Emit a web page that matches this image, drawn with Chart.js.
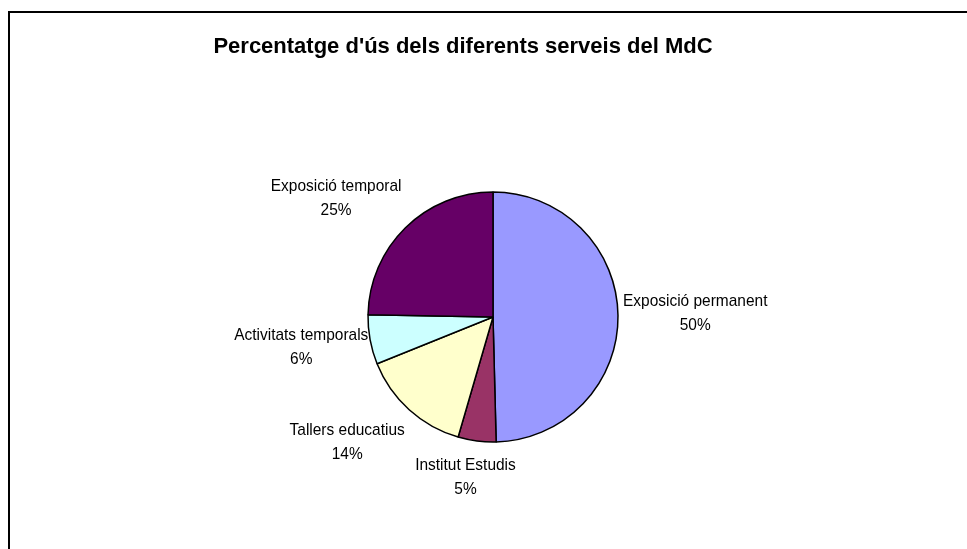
<!DOCTYPE html>
<html>
<head>
<meta charset="utf-8">
<script src="https://cdn.jsdelivr.net/npm/chart.js@4"></script>
<style>
  html, body { margin: 0; padding: 0; background: #ffffff; }
  #wrap { width: 967px; height: 549px; position: relative; }
</style>
</head>
<body>
<div id="wrap"><canvas id="c" width="967" height="549"></canvas></div>
<script>
// ---- data ----
const chartTitle = "Percentatge d'ús dels diferents serveis del MdC";
const categories = ["Exposició permanent", "Institut Estudis", "Tallers educatius", "Activitats temporals", "Exposició temporal"];
const values = [49.6, 4.9, 14.4, 6.4, 24.7];
const sliceColors = ["#9999FF", "#993366", "#FFFFCC", "#CCFFFF", "#660066"];

// ---- label placement styling (nudges from the automatic outside position) ----
const labelNudges = [[-3, -3], [-4, 9], [-18, 12], [5, 2], [-18, -12]];

const total = values.reduce((a, b) => a + b, 0);

const decorPlugin = {
  id: 'decor',
  beforeDraw(chart) {
    const ctx = chart.ctx;
    ctx.save();
    ctx.fillStyle = '#ffffff';
    ctx.fillRect(0, 0, chart.width, chart.height);
    ctx.strokeStyle = '#000000';
    ctx.lineWidth = 2;
    ctx.strokeRect(9, 12, chart.width + 20, chart.height + 20);
    ctx.fillStyle = '#000000';
    ctx.font = 'bold 22px "Liberation Sans", Arial, sans-serif';
    ctx.textAlign = 'center';
    ctx.textBaseline = 'alphabetic';
    ctx.fillText(chartTitle, 463, 53);
    ctx.restore();
  },
  afterDatasetsDraw(chart) {
    const ctx = chart.ctx;
    const meta = chart.getDatasetMeta(0);
    const fontPx = 17, sx = 0.91, lineGap = 24, cap = 12.2;
    ctx.save();
    ctx.fillStyle = '#000000';
    ctx.font = fontPx + 'px "Liberation Sans", Arial, sans-serif';
    ctx.textBaseline = 'alphabetic';
    ctx.textAlign = 'center';
    meta.data.forEach((arc, i) => {
      const p = arc.getProps(['x', 'y', 'startAngle', 'endAngle', 'outerRadius'], true);
      const mid = (p.startAngle + p.endAngle) / 2;
      const dx = Math.cos(mid), dy = Math.sin(mid);
      const l1 = categories[i];
      const l2 = Math.round(values[i] / total * 100) + '%';
      const w = Math.max(ctx.measureText(l1).width, ctx.measureText(l2).width) * sx;
      const h = cap + lineGap;
      const r = p.outerRadius + 8;
      const cx = p.x + dx * r + dx * w / 2 + labelNudges[i][0];
      const cy = p.y + dy * r + dy * h / 2 + labelNudges[i][1];
      const top = cy - h / 2;
      [l1, l2].forEach((t, k) => {
        ctx.save();
        ctx.translate(cx, top + cap + k * lineGap);
        ctx.scale(sx, 1);
        ctx.fillText(t, 0, 0);
        ctx.restore();
      });
    });
    ctx.restore();
  }
};

new Chart(document.getElementById('c'), {
  type: 'pie',
  data: {
    labels: categories,
    datasets: [{
      data: values,
      backgroundColor: sliceColors,
      borderColor: '#000000',
      borderWidth: 1.5
    }]
  },
  options: {
    responsive: false,
    animation: false,
    radius: 125,
    layout: { padding: { left: 19, right: 0, top: 85, bottom: 0 } },
    plugins: {
      legend: { display: false },
      tooltip: { enabled: false },
      title: { display: false }
    }
  },
  plugins: [decorPlugin]
});
</script>
</body>
</html>
